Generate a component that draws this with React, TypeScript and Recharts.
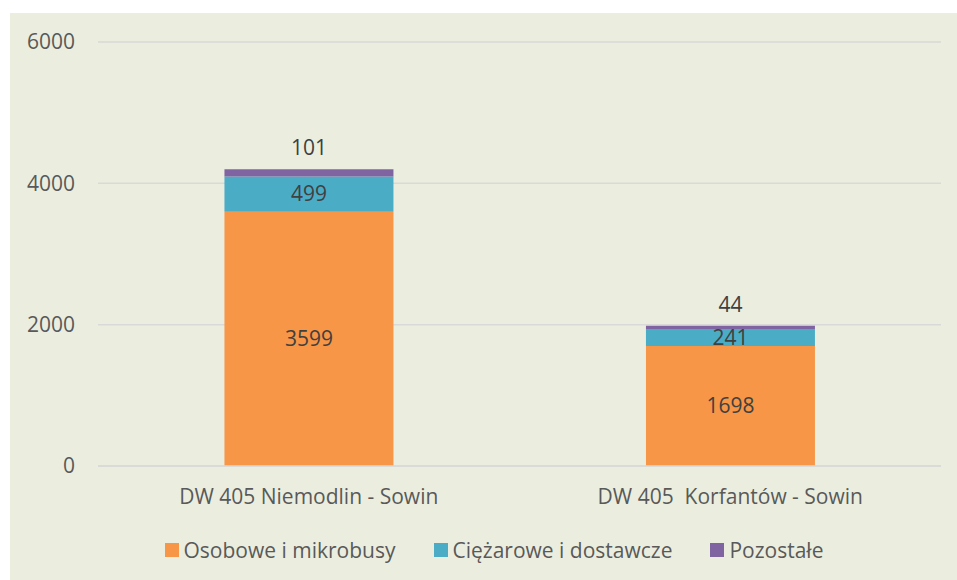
import React from "react";
import { BarChart, Bar, XAxis, YAxis, CartesianGrid, Legend, LabelList } from "recharts";

const categories = ["DW 405 Niemodlin - Sowin", "DW 405\u00A0 Korfantów - Sowin"];
const osobowe = [3599, 1698];
const ciezarowe = [499, 241];
const pozostale = [101, 44];
const yTicks = [0, 2000, 4000, 6000];

const seriesKeys = ["osobowe", "ciezarowe", "pozostale"];
const seriesNames: Record<string, string> = {
  osobowe: "Osobowe i mikrobusy",
  ciezarowe: "Ciężarowe i dostawcze",
  pozostale: "Pozostałe",
};

const data = categories.map((name, i) => ({
  name,
  osobowe: osobowe[i],
  ciezarowe: ciezarowe[i],
  pozostale: pozostale[i],
}));

const FONT = "'Open Sans', 'Noto Sans', sans-serif";

const renderLegend = (props: any) => {
  const payload = [...(props.payload || [])].sort(
    (a: any, b: any) => seriesKeys.indexOf(a.dataKey) - seriesKeys.indexOf(b.dataKey)
  );
  return (
    <div style={{ display: "flex", justifyContent: "center", alignItems: "center", paddingLeft: 37, fontFamily: FONT, fontSize: 21, color: "#595959" }}>
      {payload.map((entry: any, idx: number) => (
        <div key={idx} style={{ display: "flex", alignItems: "center", marginRight: idx < payload.length - 1 ? 38 : 0 }}>
          <span style={{ display: "inline-block", width: 14, height: 14, background: entry.color, marginRight: 5 }} />
          <span>{entry.value}</span>
        </div>
      ))}
    </div>
  );
};

export default function App() {
  return (
    <div style={{ position: "absolute", left: 10, top: 13, width: 947, height: 567, background: "#EBEEDF" }}>
      <BarChart
        width={947}
        height={567}
        data={data}
        margin={{ top: 29, right: 16, left: 0, bottom: 6 }}
        barCategoryGap="30%"
      >
        <CartesianGrid vertical={false} stroke="#D9D9D9" strokeWidth={1.5} />
        <XAxis
          dataKey="name"
          height={70}
          tickLine={false}
          tickSize={0}
          tickMargin={23}
          axisLine={{ stroke: "#D9D9D9", strokeWidth: 1.5 }}
          tick={{ fill: "#595959", fontSize: 21, fontFamily: FONT }}
        />
        <YAxis
          width={88}
          domain={[0, 6000]}
          ticks={yTicks}
          axisLine={false}
          tickLine={false}
          tickSize={0}
          tickMargin={23}
          tick={{ fill: "#595959", fontSize: 21, fontFamily: FONT }}
        />
        <Legend verticalAlign="bottom" height={38} content={renderLegend} />
        <Bar dataKey="osobowe" name={seriesNames.osobowe} stackId="a" fill="#F79646" isAnimationActive={false}>
          <LabelList dataKey="osobowe" position="center" fill="#404040" fontSize={21} fontFamily={FONT} />
        </Bar>
        <Bar dataKey="ciezarowe" name={seriesNames.ciezarowe} stackId="a" fill="#4BACC6" isAnimationActive={false}>
          <LabelList dataKey="ciezarowe" position="center" fill="#404040" fontSize={21} fontFamily={FONT} />
        </Bar>
        <Bar dataKey="pozostale" name={seriesNames.pozostale} stackId="a" fill="#8064A2" isAnimationActive={false}>
          <LabelList dataKey="pozostale" position="top" offset={14} fill="#404040" fontSize={21} fontFamily={FONT} />
        </Bar>
      </BarChart>
    </div>
  );
}
